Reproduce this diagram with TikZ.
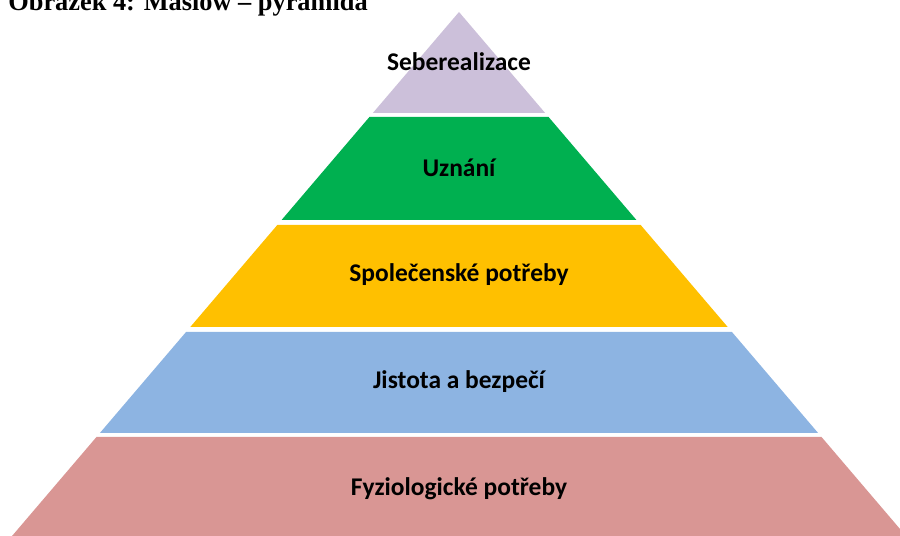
\documentclass[tikz,border=0pt]{standalone}
\usepackage{fontspec}
\setmainfont{Liberation Serif}
\newfontfamily\calibri{Carlito}
\definecolor{sebe}{RGB}{204,192,218}
\definecolor{uzna}{RGB}{0,176,80}
\definecolor{spol}{RGB}{255,192,0}
\definecolor{jist}{RGB}{141,180,226}
\definecolor{fyzi}{RGB}{217,150,148}
\begin{document}
\begin{tikzpicture}[x=0.02cm,y=-0.02cm,
    lbl/.style={font=\calibri\bfseries\fontsize{14.5}{17}\selectfont}]
\useasboundingbox (0,0) rectangle (900,536);
\clip (0,0) rectangle (900,536);
\node[anchor=base west,inner sep=0,font=\bfseries\fontsize{15}{17}\selectfont] (titul) at (8,11) {Obrázek 4: Maslow -- pyramida};
% vrstvy pyramidy: horni okraj / dolni okraj / barva / jmeno / popisek
\foreach \t/\b/\ly/\c/\txt in {12/113/62/sebe/Seberealizace,117/220/168/uzna/Uznání,225/327/275/spol/Společenské potřeby,332/433/382/jist/Jistota a bezpečí,437/545/489/fyzi/Fyziologické potřeby}{
  \fill[\c]({459-0.853*(\t-12)},\t)--({459+0.853*(\t-12)},\t)--({459+0.853*(\b-12)},\b)--({459-0.853*(\b-12)},\b)--cycle;
  \node[lbl] (\c) at (459,\ly) {\txt};
}
\end{tikzpicture}
\end{document}
